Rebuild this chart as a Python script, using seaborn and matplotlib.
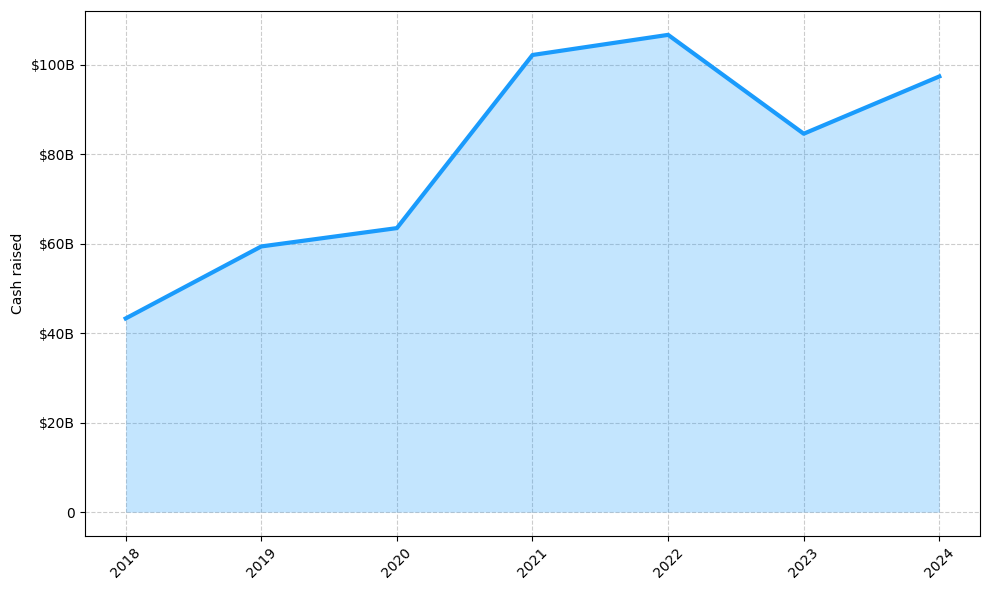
import matplotlib
matplotlib.use("Agg")
import matplotlib.pyplot as plt
import seaborn as sns
import pandas as pd
from matplotlib.ticker import FuncFormatter

years = [2018, 2019, 2020, 2021, 2022, 2023, 2024]
cash_raised_b = [43.3, 59.4, 63.5, 102.2, 106.7, 84.6, 97.4]

plt.rcParams['font.family'] = ['DejaVu Sans']

df = pd.DataFrame({"year": years, "cash": cash_raised_b})

W, H = 989, 590
fig, ax = plt.subplots(figsize=(W / 100, H / 100), dpi=100)
line_color = "#1a9bfc"
ax.fill_between(df["year"], df["cash"], 0, color=line_color, alpha=0.26, linewidth=0)
sns.lineplot(data=df, x="year", y="cash", ax=ax, color=line_color, linewidth=3)

ax.grid(True, linestyle="--", color="#cccccc", linewidth=0.8)
ax.set_axisbelow(True)
ax.set_xticks(years)
ax.set_xticklabels([str(y) for y in years], rotation=45)
ax.yaxis.set_major_formatter(FuncFormatter(lambda v, p: "0" if v == 0 else f"${v:.0f}B"))
ax.set_xlabel("")
ax.set_ylabel("Cash raised")
fig.subplots_adjust(left=85 / W, right=980 / W, top=1 - 11 / H, bottom=1 - 536 / H)
fig.savefig("out.png", dpi=100)
